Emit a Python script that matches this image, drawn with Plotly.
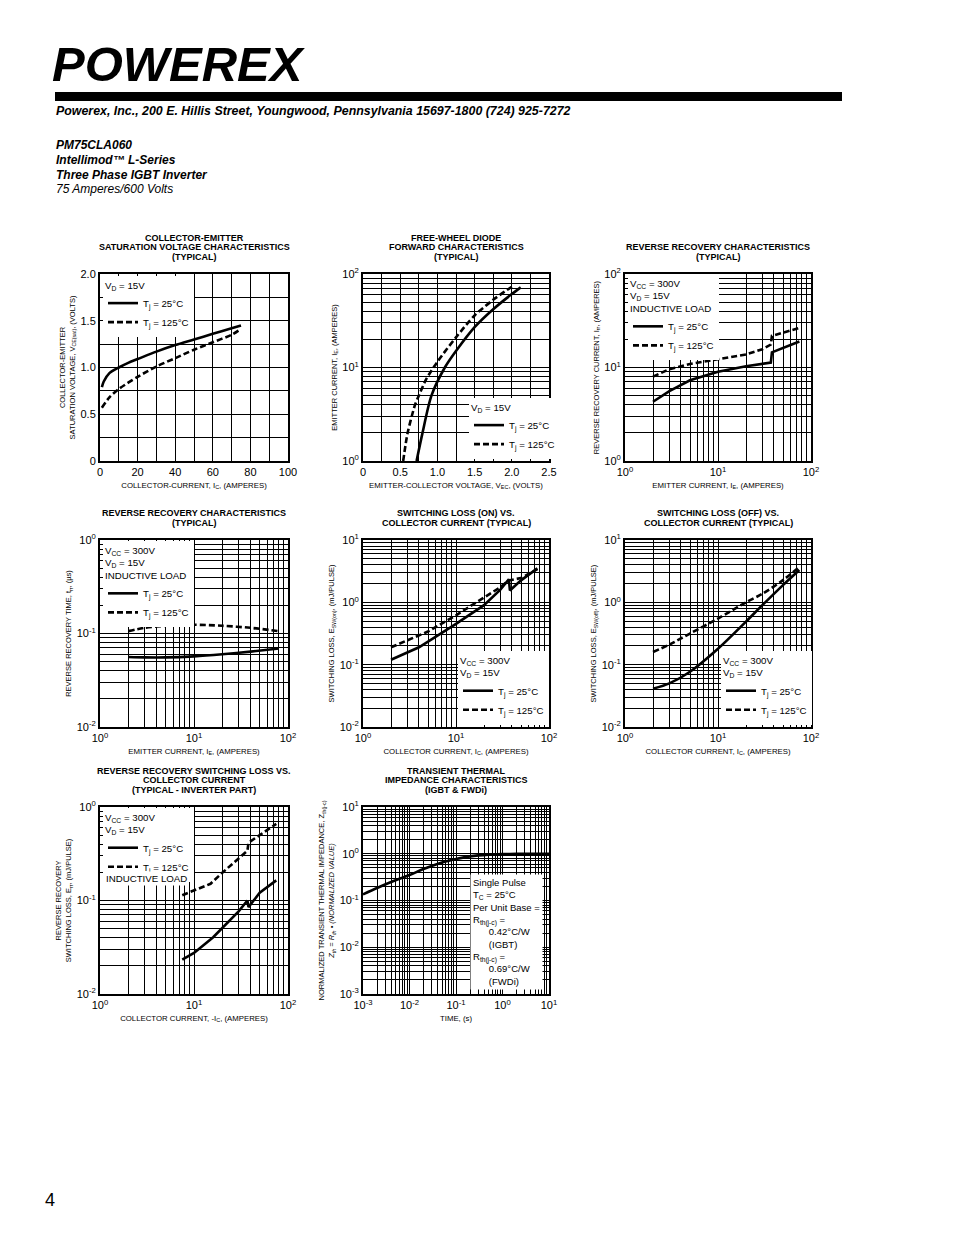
import plotly.graph_objects as go

PAGE_W, PAGE_H = 954, 1235
OFF = 8  # default body margin of the html page
W, H = PAGE_W - OFF, PAGE_H - OFF
FONT = "Liberation Sans, Arial, Helvetica, sans-serif"

# ---------------- data ----------------
# 1: Collector-emitter saturation voltage
p1_ic_25 = [1, 2, 5, 10, 15, 20, 30, 40, 50, 60, 70, 75]
p1_v_25 = [0.79, 0.85, 0.94, 1.00, 1.05, 1.09, 1.17, 1.24, 1.30, 1.36, 1.42, 1.45]
p1_ic_125 = [1, 5, 10, 20, 30, 40, 50, 60, 70, 74]
p1_v_125 = [0.57, 0.68, 0.77, 0.90, 1.01, 1.10, 1.19, 1.27, 1.35, 1.40]

# 2: Free-wheel diode forward characteristics
p2_v_25 = [0.72, 0.80, 0.92, 1.10, 1.25, 1.50, 1.75, 2.00, 2.12]
p2_i_25 = [1.0, 2.0, 5.0, 10, 15, 27, 42, 61, 72]
p2_v_125 = [0.54, 0.60, 0.70, 0.75, 0.85, 1.00, 1.25, 1.50, 1.75, 2.00]
p2_i_125 = [1.0, 2.0, 4.0, 5.0, 7.5, 11.5, 21, 36, 53, 73]

# 3: Reverse recovery current
p3_ie_25 = [2, 3, 5, 10, 20, 30, 37, 38, 50, 75]
p3_irr_25 = [4.3, 5.6, 7.3, 9.0, 10.3, 10.9, 11.3, 14.5, 16.3, 19.0]
p3_ie_125 = [2, 3, 5, 10, 20, 30, 37, 38, 50, 75]
p3_irr_125 = [8.0, 9.6, 10.9, 12.3, 13.8, 15.7, 17.6, 21.8, 23.5, 26.5]

# 4: Reverse recovery time
p4_ie = [2, 3, 5, 10, 20, 40, 80]
p4_trr_25 = [0.056, 0.0555, 0.0555, 0.057, 0.060, 0.064, 0.069]
p4_trr_125 = [0.106, 0.115, 0.121, 0.124, 0.121, 0.115, 0.106]

# 5: Switching loss (on)
p5_ic_25 = [2, 4, 10, 20, 30, 37, 38, 50, 75]
p5_e_25 = [0.12, 0.19, 0.45, 0.90, 1.60, 2.35, 1.55, 2.25, 3.5]
p5_ic_125 = [2, 5, 10, 20, 30, 37, 50, 75]
p5_e_125 = [0.19, 0.34, 0.62, 1.20, 1.75, 2.25, 2.45, 3.4]

# 6: Switching loss (off)
p6_ic = [2, 3, 5, 10, 20, 30, 50, 75]
p6_e_25 = [0.041, 0.050, 0.077, 0.18, 0.49, 0.90, 1.89, 3.3]
p6_e_125 = [0.16, 0.21, 0.316, 0.55, 1.00, 1.37, 2.27, 3.72]

# 7: Reverse recovery switching loss
p7_ic_25 = [7.5, 10, 16, 20, 30, 37, 38, 50, 75]
p7_e_25 = [0.0233, 0.0275, 0.0405, 0.051, 0.077, 0.100, 0.085, 0.121, 0.164]
p7_ic_125 = [7.5, 10, 15, 20, 30, 37, 38, 50, 75]
p7_e_125 = [0.114, 0.128, 0.151, 0.198, 0.28, 0.34, 0.415, 0.497, 0.66]

# 8: Transient thermal impedance
p8_t = [0.001, 0.002, 0.005, 0.01, 0.02, 0.05, 0.1, 0.2, 0.5, 1, 2, 5, 10]
p8_z = [0.135, 0.185, 0.27, 0.35, 0.47, 0.65, 0.77, 0.88, 0.96, 0.985, 0.995, 1.0, 1.0]

LEG_25 = "T<sub>j</sub> = 25°C"
LEG_125 = "T<sub>j</sub> = 125°C"

# ---------------- layout helpers ----------------
def fx(px):
    return (px - OFF) / W


def fy(py):
    return 1 - (py - OFF) / H


cols = [(100, 288), (363, 549), (625, 811)]
rows = [(274, 461), (540, 727), (807, 994)]
panel_pos = {1: (0, 0), 2: (1, 0), 3: (2, 0), 4: (0, 1), 5: (1, 1), 6: (2, 1), 7: (0, 2), 8: (1, 2)}


def log_ticks(lo, hi):
    major = [10.0 ** d for d in range(lo, hi + 1)]
    text = [f"10<sup>{d}</sup>" for d in range(lo, hi + 1)]
    minor = [m * 10.0 ** d for d in range(lo, hi) for m in range(2, 10)]
    return major, text, minor


def lin_ticks(lo, hi, step, label_every, fmt):
    major, text, minor = [], [], []
    n = int(round((hi - lo) / step))
    for k in range(n + 1):
        v = lo + k * step
        if k % label_every == 0:
            major.append(v)
            text.append(fmt(v))
        else:
            minor.append(v)
    return major, text, minor


fig = go.Figure()


def ax_name(i, kind):
    return kind if i == 1 else f"{kind}{i}"


def add_curve(i, x, y, dashed, name, shape="spline"):
    leg = None if i == 8 else ("legend" if i == 1 else f"legend{i}")
    kw = dict(legend=leg) if leg else {}
    fig.add_trace(go.Scatter(
        x=x, y=y, mode="lines", name=name,
        line=dict(color="black", width=2.6, dash="6px,3px" if dashed else "solid",
                  shape=shape, smoothing=0.8),
        xaxis=ax_name(i, "x"), yaxis=ax_name(i, "y"),
        showlegend=(leg is not None), hoverinfo="skip", **kw))


add_curve(1, p1_ic_25, p1_v_25, False, LEG_25)
add_curve(1, p1_ic_125, p1_v_125, True, LEG_125)
add_curve(2, p2_v_25, p2_i_25, False, LEG_25)
add_curve(2, p2_v_125, p2_i_125, True, LEG_125)
add_curve(3, p3_ie_25, p3_irr_25, False, LEG_25, "linear")
add_curve(3, p3_ie_125, p3_irr_125, True, LEG_125, "linear")
add_curve(4, p4_ie, p4_trr_25, False, LEG_25)
add_curve(4, p4_ie, p4_trr_125, True, LEG_125)
add_curve(5, p5_ic_25, p5_e_25, False, LEG_25, "linear")
add_curve(5, p5_ic_125, p5_e_125, True, LEG_125, "linear")
add_curve(6, p6_ic, p6_e_25, False, LEG_25)
add_curve(6, p6_ic, p6_e_125, True, LEG_125)
add_curve(7, p7_ic_25, p7_e_25, False, LEG_25, "linear")
add_curve(7, p7_ic_125, p7_e_125, True, LEG_125, "linear")
add_curve(8, p8_t, p8_z, False, "Z<sub>th</sub>")

one_dec = lambda v: "0" if v == 0 else f"{v:.1f}"
specs = {
    1: (("linear", [0, 100], *lin_ticks(0, 100, 10, 2, lambda v: f"{v:g}"),
         "COLLECTOR-CURRENT, I<sub>C</sub>, (AMPERES)"),
        ("linear", [0, 2], *lin_ticks(0, 2, 0.25, 2, one_dec),
         "COLLECTOR-EMITTER<br>SATURATION VOLTAGE, V<sub>CE(sat)</sub>, (VOLTS)")),
    2: (("linear", [0, 2.5], *lin_ticks(0, 2.5, 0.25, 2, one_dec),
         "EMITTER-COLLECTOR VOLTAGE, V<sub>EC</sub>, (VOLTS)"),
        ("log", [0, 2], *log_ticks(0, 2), "EMITTER CURRENT, I<sub>E</sub>, (AMPERES)")),
    3: (("log", [0, 2], *log_ticks(0, 2), "EMITTER CURRENT, I<sub>E</sub>, (AMPERES)"),
        ("log", [0, 2], *log_ticks(0, 2), "REVERSE RECOVERY CURRENT, I<sub>rr</sub>, (AMPERES)")),
    4: (("log", [0, 2], *log_ticks(0, 2), "EMITTER CURRENT, I<sub>E</sub>, (AMPERES)"),
        ("log", [-2, 0], *log_ticks(-2, 0), "REVERSE RECOVERY TIME, t<sub>rr</sub>, (µs)")),
    5: (("log", [0, 2], *log_ticks(0, 2), "COLLECTOR CURRENT, I<sub>C</sub>, (AMPERES)"),
        ("log", [-2, 1], *log_ticks(-2, 1), "SWITCHING LOSS, E<sub>SW(on)</sub>, (mJ/PULSE)")),
    6: (("log", [0, 2], *log_ticks(0, 2), "COLLECTOR CURRENT, I<sub>C</sub>, (AMPERES)"),
        ("log", [-2, 1], *log_ticks(-2, 1), "SWITCHING LOSS, E<sub>SW(off)</sub>, (mJ/PULSE)")),
    7: (("log", [0, 2], *log_ticks(0, 2), "COLLECTOR CURRENT, -I<sub>C</sub>, (AMPERES)"),
        ("log", [-2, 0], *log_ticks(-2, 0),
         "REVERSE RECOVERY<br>SWITCHING LOSS, E<sub>rr</sub>, (mJ/PULSE)")),
    8: (("log", [-3, 1], *log_ticks(-3, 1), "TIME, (s)"),
        ("log", [-3, 1], *log_ticks(-3, 1),
         "NORMALIZED TRANSIENT THERMAL IMPEDANCE, Z<sub>th(j-c)</sub><br>"
         "<i>Z<sub>th</sub> = R<sub>th</sub> • (NORMALIZED VALUE)</i>")),
}

layout_axes = {}
for i, (xs, ys) in specs.items():
    c, r = panel_pos[i]
    x0, x1 = cols[c]
    y0, y1 = rows[r]
    common = dict(showgrid=True, gridcolor="black", gridwidth=1, showline=True,
                  linecolor="black", linewidth=2, mirror=True, ticks="", zeroline=False,
                  tickmode="array",
                  tickfont=dict(family=FONT, size=11, color="black"), automargin=False,
                  fixedrange=True)
    xt, xr, xv, xtxt, xmin, xtitle = xs
    yt, yr, yv, ytxt, ymin, ytitle = ys
    layout_axes[ax_name(i, "xaxis")] = dict(
        common, type=xt, range=xr, tickvals=xv, ticktext=xtxt,
        minor=dict(tickmode="array", tickvals=xmin, showgrid=True, gridcolor="black",
                   gridwidth=1, ticks=""),
        domain=[fx(x0), fx(x1)], anchor=ax_name(i, "y"),
        title=dict(text=xtitle, font=dict(family=FONT, size=7.8, color="black"), standoff=5))
    layout_axes[ax_name(i, "yaxis")] = dict(
        common, type=yt, range=yr, tickvals=yv, ticktext=ytxt,
        minor=dict(tickmode="array", tickvals=ymin, showgrid=True, gridcolor="black",
                   gridwidth=1, ticks=""),
        domain=[fy(y1), fy(y0)], anchor=ax_name(i, "x"),
        title=dict(text=ytitle, font=dict(family=FONT, size=7.5, color="black"), standoff=4))

fig.update_layout(**layout_axes)

# legends
LEG_FS = 9.7
leg_common = dict(bgcolor="white", borderwidth=0, itemwidth=30, tracegroupgap=0,
                  font=dict(family=FONT, size=LEG_FS, color="black"),
                  xanchor="left", itemclick=False, itemdoubleclick=False)
legend_specs = {
    1: (103, 276, "top", "V<sub>D</sub> = 15V"),
    2: (469, 459, "bottom", "V<sub>D</sub> = 15V"),
    3: (628, 274, "top", "V<sub>CC</sub> = 300V<br>V<sub>D</sub> = 15V<br>INDUCTIVE LOAD"),
    4: (103, 541, "top", "V<sub>CC</sub> = 300V<br>V<sub>D</sub> = 15V<br>INDUCTIVE LOAD"),
    5: (458, 725, "bottom", "V<sub>CC</sub> = 300V<br>V<sub>D</sub> = 15V"),
    6: (721, 725, "bottom", "V<sub>CC</sub> = 300V<br>V<sub>D</sub> = 15V"),
    7: (103, 808, "top", "V<sub>CC</sub> = 300V<br>V<sub>D</sub> = 15V"),
}
legs = {}
for i, (lx, ly, anc, ttl) in legend_specs.items():
    legs["legend" if i == 1 else f"legend{i}"] = dict(
        leg_common, x=fx(lx), y=fy(ly), yanchor=anc,
        title=dict(text=ttl, font=dict(family=FONT, size=LEG_FS, color="black")))
fig.update_layout(**legs)

annotations = []
# panel titles, one annotation per line (tight leading as in the print)
titles = {
    1: ["COLLECTOR-EMITTER", "SATURATION VOLTAGE CHARACTERISTICS", "(TYPICAL)"],
    2: ["FREE-WHEEL DIODE", "FORWARD CHARACTERISTICS", "(TYPICAL)"],
    3: ["REVERSE RECOVERY CHARACTERISTICS", "(TYPICAL)"],
    4: ["REVERSE RECOVERY CHARACTERISTICS", "(TYPICAL)"],
    5: ["SWITCHING LOSS (ON) VS.", "COLLECTOR CURRENT (TYPICAL)"],
    6: ["SWITCHING LOSS (OFF) VS.", "COLLECTOR CURRENT (TYPICAL)"],
    7: ["REVERSE RECOVERY SWITCHING LOSS VS.", "COLLECTOR CURRENT", "(TYPICAL - INVERTER PART)"],
    8: ["TRANSIENT THERMAL", "IMPEDANCE CHARACTERISTICS", "(IGBT &amp; FWDi)"],
}
last_line_y = [257, 523, 790]
for i, lines in titles.items():
    c, r = panel_pos[i]
    x0, x1 = cols[c]
    n = len(lines)
    for k, t in enumerate(lines):
        yy = last_line_y[r] - (n - 1 - k) * 9.6
        annotations.append(dict(
            text=f"<b>{t}</b>", xref="paper", yref="paper", x=fx((x0 + x1) / 2), y=fy(yy),
            xanchor="center", yanchor="middle", showarrow=False,
            font=dict(family=FONT, size=9, color="black")))

# extra line in legend 7
annotations.append(dict(
    text="INDUCTIVE LOAD", xref="paper", yref="paper", x=fx(104), y=fy(878),
    xanchor="left", yanchor="middle", showarrow=False, bgcolor="white", borderpad=1,
    font=dict(family=FONT, size=LEG_FS, color="black")))

# thermal note box
nb = "\u00a0" * 6
annotations.append(dict(
    text=("Single Pulse<br>T<sub>C</sub> = 25°C<br>Per Unit Base =<br>R<sub>th(j-c)</sub> =<br>"
          f"{nb}0.42°C/W<br>{nb}(IGBT)<br>R<sub>th(j-c)</sub> =<br>{nb}0.69°C/W<br>{nb}(FWDi)"),
    xref="paper", yref="paper", x=fx(470), y=fy(874), xanchor="left", yanchor="top",
    align="left", showarrow=False, bgcolor="white", borderpad=2,
    font=dict(family=FONT, size=9.5, color="black")))

# header
annotations.append(dict(
    text="<b><i>POWEREX</i></b>", xref="paper", yref="paper", x=fx(50), y=fy(64),
    xanchor="left", yanchor="middle", showarrow=False,
    font=dict(family="Liberation Sans Narrow, Arial Narrow, Liberation Sans, Arial", size=49,
              color="black")))
annotations.append(dict(
    text="<b><i>Powerex, Inc., 200 E. Hillis Street, Youngwood, Pennsylvania 15697-1800 (724) 925-7272</i></b>",
    xref="paper", yref="paper", x=fx(54), y=fy(111), xanchor="left", yanchor="middle",
    showarrow=False, font=dict(family=FONT, size=12.4, color="black")))
for txt, yy, bold in [("PM75CLA060", 145, True), ("Intellimod™ L-Series", 159.5, True),
                      ("Three Phase IGBT Inverter", 174.5, True), ("75 Amperes/600 Volts", 189, False)]:
    t = f"<b><i>{txt}</i></b>" if bold else f"<i>{txt}</i>"
    annotations.append(dict(
        text=t, xref="paper", yref="paper", x=fx(54), y=fy(yy), xanchor="left", yanchor="middle",
        showarrow=False, font=dict(family=FONT, size=12, color="black")))
annotations.append(dict(
    text="4", xref="paper", yref="paper", x=fx(43), y=fy(1200), xanchor="left", yanchor="middle",
    showarrow=False, font=dict(family=FONT, size=18, color="black")))

fig.update_layout(
    annotations=annotations,
    shapes=[dict(type="rect", xref="paper", yref="paper", x0=fx(55), x1=fx(842), y0=fy(101),
                 y1=fy(92), fillcolor="black", line=dict(width=0), layer="above")],
    width=W, height=H, margin=dict(l=0, r=0, t=0, b=0),
    paper_bgcolor="white", plot_bgcolor="white",
    font=dict(family=FONT, color="black"),
    hovermode=False,
)

fig.write_html("out.html", config={"displayModeBar": False})
